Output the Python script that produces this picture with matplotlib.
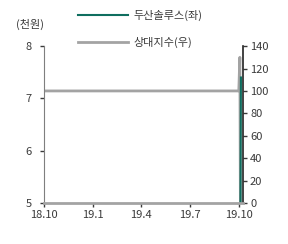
import pandas as pd
import matplotlib.pyplot as plt

plt.rcParams['font.family'] = ['Noto Sans CJK KR', 'DejaVu Sans']

# relative index (right axis) - flat until listing, then jumps at the end
index_dates = ["2018-10-01", "2019-01-01", "2019-04-01", "2019-07-01",
               "2019-09-30", "2019-10-02", "2019-10-03"]
index_values = [100, 100, 100, 100, 100, 130, 0]

# Doosan Solus price (left axis, thousand won)
price_dates = ["2019-10-03", "2019-10-04"]
price_values = [4.5, 7.4]

tick_dates = ["2018-10-01", "2019-01-01", "2019-04-01", "2019-07-01", "2019-10-01"]
tick_labels = ["18.10", "19.1", "19.4", "19.7", "19.10"]

green = "#0f6e5f"
gray = "#a3a3a3"
txt = "#3a3a3a"

fig = plt.figure(figsize=(2.88, 2.44), dpi=100)
ax = fig.add_axes([0.153, 0.168, 0.691, 0.643])
ax2 = ax.twinx()

l1, = ax.plot(pd.to_datetime(price_dates), price_values, color=green, lw=1.5, label="두산솔루스(좌)")
l2, = ax2.plot(pd.to_datetime(index_dates), index_values, color=gray, lw=2, label="상대지수(우)")
ax.set_zorder(ax2.get_zorder() + 1)
ax.patch.set_visible(False)

ax.set_xlim(pd.Timestamp("2018-10-01"), pd.Timestamp("2019-10-08"))
ax.set_ylim(5, 8)
ax.set_yticks([5, 6, 7, 8])
ax2.set_ylim(0, 140)
ax2.set_yticks(range(0, 141, 20))
ax.set_xticks(pd.to_datetime(tick_dates))
ax.set_xticklabels(tick_labels)

for a in (ax, ax2):
    a.spines["top"].set_visible(False)
    a.tick_params(labelsize=8, colors=txt, length=3, width=1, pad=2)
ax.tick_params(axis="y", pad=6)
ax.spines["left"].set_color("#7f7f7f")
ax.spines["bottom"].set_color(gray)
ax.spines["bottom"].set_linewidth(2)
ax.spines["right"].set_visible(False)
ax2.spines["left"].set_visible(False)
ax2.spines["bottom"].set_visible(False)
ax2.spines["right"].set_color("#222222")
ax2.spines["right"].set_linewidth(1.2)

fig.text(0.105, 0.9, "(천원)", fontsize=8, color=txt, ha="center", va="center")
fig.legend(handles=[l1, l2], loc="upper left", bbox_to_anchor=(0.235, 1.0),
           frameon=False, fontsize=8, handlelength=4.5, labelspacing=1.45,
           labelcolor=txt, handletextpad=0.5)

fig.savefig("out.png", dpi=100)
